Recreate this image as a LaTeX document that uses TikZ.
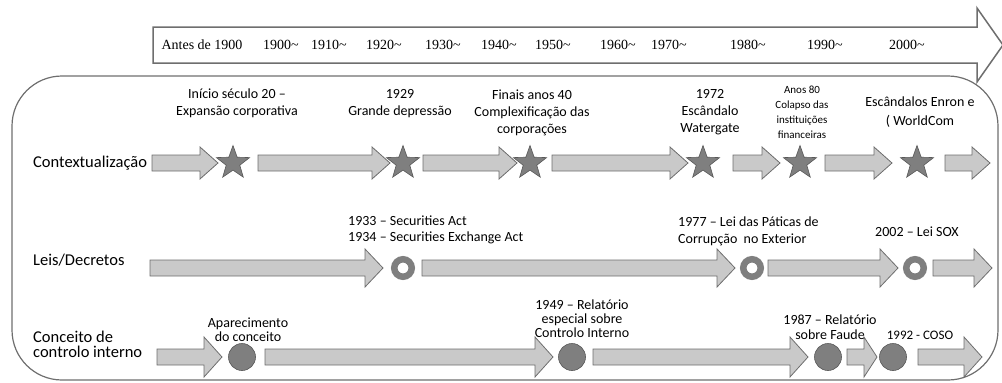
\documentclass[tikz,border=0pt]{standalone}
\usepackage{fontspec}
\setmainfont{Carlito}
\newfontfamily\yearfont{Liberation Serif}
\usetikzlibrary{shapes.geometric}
\definecolor{shaftgray}{HTML}{C9C9C9}
\definecolor{edgegray}{HTML}{6E6E6E}
\definecolor{markgray}{HTML}{7F7F7F}

% block arrow: start x, tip x, centre y, half head height, head length
\newcommand{\Seta}[5]{%
  \draw[shaft] (#1,{#3-8}) -- ({#2-#5},{#3-8}) -- ({#2-#5},{#3-#4}) -- (#2,#3)
    -- ({#2-#5},{#3+#4}) -- ({#2-#5},{#3+8}) -- (#1,{#3+8}) -- cycle;}

\begin{document}
\begin{tikzpicture}[x=1pt,y=-1pt,
    shaft/.style={fill=shaftgray,draw=edgegray,line width=0.8pt},
    startag/.style={star,star points=5,star point ratio=2.45,minimum size=35pt,inner sep=0pt,fill=markgray,draw=edgegray!80!black,line width=0.6pt},
    ringtag/.style={circle,minimum size=17.5pt,inner sep=0pt,draw=markgray,line width=6.5pt,fill=white},
    disktag/.style={circle,minimum size=27pt,inner sep=0pt,fill=markgray,draw=edgegray!80!black,line width=0.6pt},
    evt/.style={align=center,inner sep=0pt,font=\fontsize{14}{17}\selectfont},
    evtleft/.style={align=left,anchor=west,inner sep=0pt,font=\fontsize{14}{16.5}\selectfont},
    rowname/.style={align=left,anchor=west,inner sep=0pt,font=\fontsize{16.5}{15}\selectfont},
    yr/.style={inner sep=0pt,font=\yearfont\fontsize{14}{16}\selectfont}]
  \useasboundingbox (0,0) rectangle (1002,383);

  %% frame and time axis
  \draw[edgegray,line width=1.2pt,rounded corners=50pt] (12,76) rectangle (998,380);
  \draw[fill=white,draw=edgegray,line width=1.5pt] (153,27) -- (977,27) -- (977,8) -- (1003,45)
    -- (977,82) -- (977,63) -- (153,63) -- cycle;
  \node[yr] (y0) at (202,45) {Antes de 1900};
  \node[yr] (y1) at (281,45) {1900\textasciitilde};
  \node[yr] (y2) at (329,45) {1910\textasciitilde};
  \node[yr] (y3) at (384,45) {1920\textasciitilde};
  \node[yr] (y4) at (443,45) {1930\textasciitilde};
  \node[yr] (y5) at (499,45) {1940\textasciitilde};
  \node[yr] (y6) at (553,45) {1950\textasciitilde};
  \node[yr] (y7) at (618,45) {1960\textasciitilde};
  \node[yr] (y8) at (669,45) {1970\textasciitilde};
  \node[yr] (y9) at (748,45) {1980\textasciitilde};
  \node[yr] (y10) at (825,45) {1990\textasciitilde};
  \node[yr] (y11) at (907,45) {2000\textasciitilde};

  %% Contextualizacao
  \node[rowname] (ctx) at (33,163) {Contextualização};
  \Seta{152}{218}{163}{16}{18}
  \Seta{258}{390}{163}{16}{18}
  \Seta{423}{517}{163}{16}{18}
  \Seta{552}{688}{163}{16}{18}
  \Seta{733}{780}{163}{16}{18}
  \Seta{825}{892}{163}{16}{18}
  \Seta{945}{990}{163}{16}{18}
  \node[startag] (s1) at (233,163) {};
  \node[startag] (s2) at (403,163) {};
  \node[startag] (s3) at (530,163) {};
  \node[startag] (s4) at (703,163) {};
  \node[startag] (s5) at (800,163) {};
  \node[startag] (s6) at (917,163) {};
  \node[evt] (e1) at (237,103.5) {Início século 20 –\\Expansão corporativa};
  \node[evt] (e2) at (400,103.5) {1929\\Grande depressão};
  \node[evt] (e3) at (532,112.5) {Finais anos 40\\Complexificação das\\corporações};
  \node[evt] (e4) at (710,112.5) {1972\\Escândalo\\Watergate};
  \node[evt,font=\fontsize{11}{15}\selectfont] (e5) at (802,112.5) {Anos 80\\Colapso das\\instituições\\financeiras};
  \node[evt,font=\fontsize{14}{19}\selectfont] (e6) at (920,112.5) {Escândalos Enron e\\( WorldCom};

  %% Leis/Decretos
  \node[rowname] (leis) at (33,260) {Leis/Decretos};
  \Seta{150}{383}{268}{19}{18}
  \Seta{422}{735}{268}{19}{18}
  \Seta{768}{898}{268}{19}{18}
  \Seta{933}{992}{268}{19}{18}
  \node[ringtag] (r1) at (403,268) {};
  \node[ringtag] (r2) at (752,268) {};
  \node[ringtag] (r3) at (915,268) {};
  \node[evtleft] (l1) at (348,230) {1933 – Securities Act\\1934 – Securities Exchange Act};
  \node[evtleft] (l2) at (678,231.5) {1977 – Lei das Páticas de\\Corrupção\ \ no Exterior};
  \node[evtleft] (l3) at (875,232) {2002 – Lei SOX};

  %% Conceito de controlo interno
  \node[rowname] (ci) at (33,344.5) {Conceito de\\controlo interno};
  \Seta{157}{222}{357}{20}{18}
  \Seta{265}{553}{357}{20}{18}
  \Seta{593}{808}{357}{20}{18}
  \Seta{847}{877}{357}{20}{13}
  \Seta{918}{982}{357}{20}{18}
  \node[disktag] (d1) at (242,357) {};
  \node[disktag] (d2) at (572,357) {};
  \node[disktag] (d3) at (828,357) {};
  \node[disktag] (d4) at (893,357) {};
  \node[evt,font=\fontsize{14}{14}\selectfont] (c1) at (248,330) {Aparecimento\\do conceito};
  \node[evt,font=\fontsize{14}{14}\selectfont] (c2) at (582,319) {1949 – Relatório\\especial sobre\\Controlo Interno};
  \node[evt,font=\fontsize{14}{15}\selectfont] (c3) at (830,327.5) {1987 – Relatório\\sobre Faude};
  \node[evt,font=\fontsize{13}{15}\selectfont] (c4) at (920,335) {1992 - COSO};
\end{tikzpicture}
\end{document}
